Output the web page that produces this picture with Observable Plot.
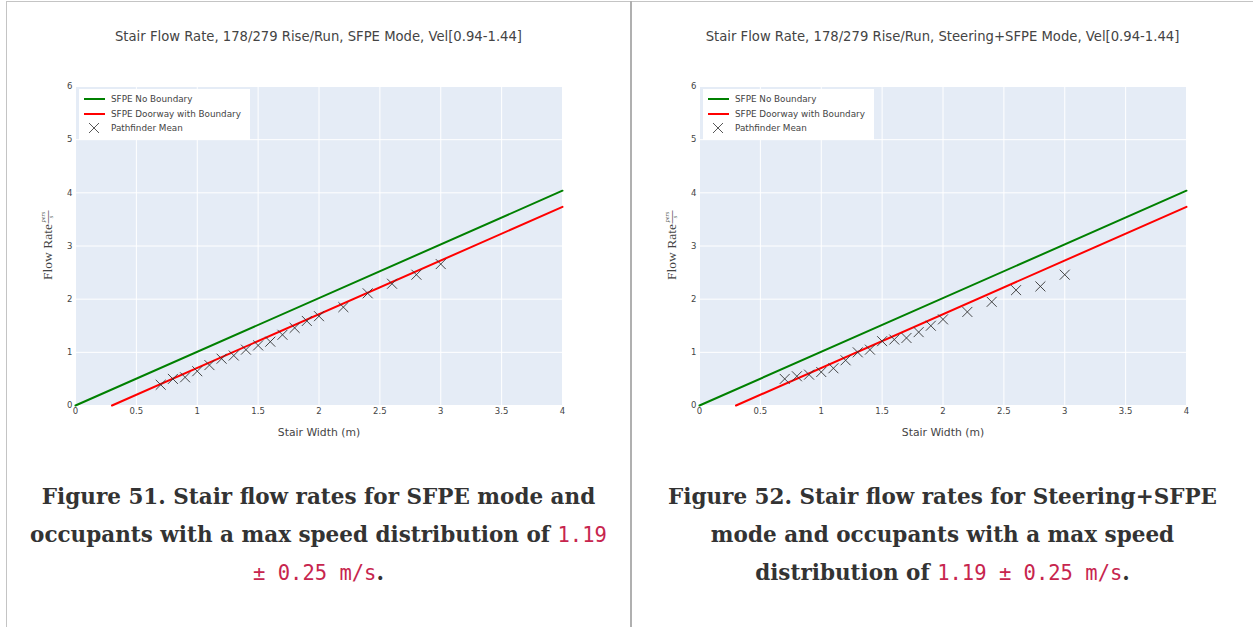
<!DOCTYPE html>
<html><head><meta charset="utf-8">
<script src="https://cdn.jsdelivr.net/npm/d3@7"></script>
<script src="https://cdn.jsdelivr.net/npm/@observablehq/plot@0.6"></script>
<style>
body{margin:0;background:#fff;}
#page{position:relative;width:1253px;height:627px;overflow:hidden;font-family:"DejaVu Sans",sans-serif;}
.bd{position:absolute;}
.title{position:absolute;top:28px;width:487px;text-align:center;font-size:13.2px;line-height:18px;color:#444;white-space:nowrap;}
.chart{position:absolute;top:60px;}
.legend{position:absolute;top:89px;width:171px;height:51px;background:#fff;font-size:8.8px;color:#444;}
.legend .row{position:absolute;left:0;height:14px;display:flex;align-items:center;white-space:nowrap;}
.legend svg{display:block;margin-left:4px;margin-right:6px;}
.caption{position:absolute;top:478px;text-align:center;font-family:"DejaVu Serif",serif;font-weight:bold;font-size:21.5px;line-height:38px;color:#333;}
.caption code{font-family:"DejaVu Sans Mono",monospace;font-weight:normal;color:#c7254e;font-size:20.5px;}
</style></head>
<body><div id="page"></div>
<script>
// ---- data ----
const stairWidths = [0.7,0.8,0.9,1.0,1.1,1.2,1.3,1.4,1.5,1.6,1.7,1.8,1.9,2.0,2.2,2.4,2.6,2.8,3.0];
const sfpeModeMeanFlow = [0.39,0.50,0.53,0.645,0.76,0.88,0.94,1.05,1.13,1.20,1.33,1.46,1.59,1.68,1.85,2.11,2.29,2.46,2.66];
const steeringModeMeanFlow = [0.50,0.55,0.58,0.63,0.70,0.85,1.00,1.05,1.21,1.24,1.27,1.38,1.50,1.62,1.76,1.95,2.17,2.24,2.46];
const noBoundaryWidth = [0, 4];
const noBoundaryFlow = [0, 4.04];
const doorwayWidth = [0.3, 4];
const doorwayFlow = [0, 3.737];
const xTicks = [0,0.5,1,1.5,2,2.5,3,3.5,4];
const yTicks = [0,1,2,3,4,5,6];
const chartTitles = [
  "Stair Flow Rate, 178/279 Rise/Run, SFPE Mode, Vel[0.94-1.44]",
  "Stair Flow Rate, 178/279 Rise/Run, Steering+SFPE Mode, Vel[0.94-1.44]"
];
const legendLabels = ["SFPE No Boundary","SFPE Doorway with Boundary","Pathfinder Mean"];
const xLabel = "Stair Width (m)";
const yLabel = "Flow Rate";
const captionsHTML = [
  'Figure 51. Stair flow rates for SFPE mode and<br>occupants with a max speed distribution of <code>1.19</code><br><code>± 0.25 m/s</code>.',
  'Figure 52. Stair flow rates for Steering+SFPE<br>mode and occupants with a max speed<br>distribution of <code>1.19 ± 0.25 m/s</code>.'
];

const page = document.getElementById("page");
function addDiv(cls, style, html) {
  const d = document.createElement("div");
  d.className = cls; d.setAttribute("style", style);
  if (html != null) d.innerHTML = html;
  page.appendChild(d); return d;
}
// borders
addDiv("bd", "left:6px;top:1px;width:1247px;height:1px;background:#c4c4c4;");
addDiv("bd", "left:6px;top:1px;width:1px;height:626px;background:#c4c4c4;");
addDiv("bd", "left:630px;top:1px;width:2px;height:626px;background:#b0b0b0;");

const serif = "Liberation Serif, serif";
function makeChart(meanFlow) {
  const line1 = noBoundaryWidth.map((w,i)=>({w, f:noBoundaryFlow[i]}));
  const line2 = doorwayWidth.map((w,i)=>({w, f:doorwayFlow[i]}));
  const pts = stairWidths.map((w,i)=>({w, f:meanFlow[i]}));
  const lab = {frameAnchor: "left", rotate: -90, textAnchor: "middle", lineAnchor: "middle", fill: "#444", fontFamily: serif};
  return Plot.plot({
    width: 620, height: 400,
    marginLeft: 75, marginRight: 58, marginTop: 26, marginBottom: 55,
    x: {domain: [0,4]}, y: {domain: [0,6]},
    style: {fontFamily: "DejaVu Sans, sans-serif", fontSize: "8.5px", color: "#444", background: "transparent", overflow: "visible"},
    marks: [
      Plot.frame({fill: "#E5ECF6", stroke: null}),
      Plot.gridX(xTicks, {stroke: "#fff", strokeOpacity: 1, strokeWidth: 1}),
      Plot.gridY(yTicks, {stroke: "#fff", strokeOpacity: 1, strokeWidth: 1}),
      Plot.axisX(xTicks, {tickSize: 0, tickPadding: 2, tickFormat: d => String(d), label: null, fill: "#444"}),
      Plot.axisY(yTicks, {tickSize: 0, tickPadding: 3, tickFormat: d => String(d), label: null, fill: "#444"}),
      Plot.text([xLabel], {text: d => d, frameAnchor: "bottom", lineAnchor: "middle", dy: 27, fontSize: 10.8, fill: "#444"}),
      Plot.text([yLabel], {...lab, text: d => d, dx: -28, dy: 6, fontSize: 13.5}),
      Plot.text(["pers"], {...lab, text: d => d, dx: -32, dy: -29, fontSize: 6, fontStyle: "italic"}),
      Plot.text(["s"], {...lab, text: d => d, dx: -24, dy: -29, fontSize: 6, fontStyle: "italic"}),
      Plot.text(["\u2014"], {...lab, text: d => d, dx: -28.5, dy: -29, fontSize: 13}),
      Plot.line(line1, {x: "w", y: "f", stroke: "green", strokeWidth: 2}),
      Plot.line(line2, {x: "w", y: "f", stroke: "red", strokeWidth: 2}),
      Plot.dot(pts, {x: "w", y: "f", symbol: "times", r: 4.6, stroke: "#333", strokeWidth: 0.9})
    ]
  });
}

function legendRow(top, swatch, label) {
  return `<div class="row" style="top:${top}px">${swatch}<span>${label}</span></div>`;
}
const lineSw = c => `<svg width="22" height="10"><line x1="1" y1="5" x2="22" y2="5" stroke="${c}" stroke-width="2"/></svg>`;
const crossSw = `<svg width="22" height="12"><path d="M6,1 L16,11 M16,1 L6,11" stroke="#444" stroke-width="0.9" fill="none"/></svg>`;

[0,1].forEach(i => {
  const off = i * 624;
  addDiv("title", `left:${75+off}px;`, chartTitles[i]);
  const c = addDiv("chart", `left:${off}px;`);
  c.appendChild(makeChart(i === 0 ? sfpeModeMeanFlow : steeringModeMeanFlow));
  addDiv("legend", `left:${79+off}px;`,
    legendRow(3, lineSw("green"), legendLabels[0]) +
    legendRow(18, lineSw("red"), legendLabels[1]) +
    legendRow(32, crossSw, legendLabels[2]));
  const capLeft = i === 0 ? 7 : 632;
  const capW = i === 0 ? 623 : 621;
  addDiv("caption", `left:${capLeft}px;width:${capW}px;`, captionsHTML[i]);
});
</script>
</body></html>
